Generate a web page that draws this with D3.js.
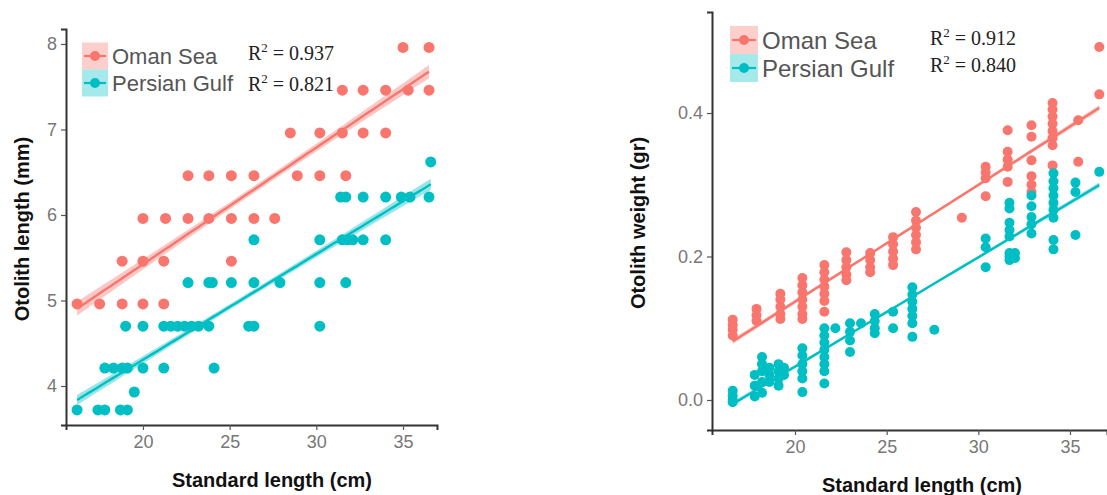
<!DOCTYPE html>
<html>
<head>
<meta charset="utf-8">
<script src="https://cdn.jsdelivr.net/npm/d3@7"></script>
<style>
  html, body { margin: 0; padding: 0; background: #fff; }
  svg { display: block; }
</style>
</head>
<body>
<svg id="chart" width="1107" height="495"></svg>
<script>
// ---------------- DATA ----------------
const seriesNames = ["Oman Sea", "Persian Gulf"];
const seriesColors = ["#F8766D", "#00BFC4"];

// Left panel: Otolith length (mm) vs Standard length (cm)
const lengthOman = [
  [35.0,7.96],[36.5,7.96],
  [31.5,7.46],[32.7,7.46],[34.0,7.46],[35.3,7.46],[36.5,7.46],
  [28.5,6.96],[30.2,6.96],[31.5,6.96],[32.7,6.96],[34.0,6.96],
  [22.6,6.46],[23.8,6.46],[25.1,6.46],[26.4,6.46],[28.9,6.46],[30.2,6.46],[31.7,6.46],
  [20.0,5.96],[21.3,5.96],[22.6,5.96],[23.8,5.96],[25.1,5.96],[26.4,5.96],[27.6,5.96],
  [18.8,5.46],[20.0,5.46],[21.2,5.46],[25.1,5.46],
  [16.2,4.96],[17.5,4.96],[18.8,4.96],[20.0,4.96],[21.2,4.96]
];
const lengthGulf = [
  [36.6,6.62],
  [31.4,6.21],[31.7,6.21],[32.7,6.21],[34.0,6.21],[34.9,6.21],[35.4,6.21],[36.5,6.21],
  [26.4,5.71],[30.2,5.71],[31.5,5.71],[31.8,5.71],[32.1,5.71],[32.7,5.71],[34.0,5.71],
  [22.6,5.21],[23.8,5.21],[24.0,5.21],[25.1,5.21],[26.4,5.21],[27.9,5.21],[30.2,5.21],[31.7,5.21],
  [19.0,4.70],[20.0,4.70],[21.2,4.70],[21.6,4.70],[22.0,4.70],[22.4,4.70],[22.8,4.70],[23.2,4.70],[23.8,4.70],[26.1,4.70],[26.4,4.70],[30.2,4.70],
  [17.8,4.21],[18.3,4.21],[18.8,4.21],[19.1,4.21],[20.0,4.21],[21.2,4.21],[24.1,4.21],
  [19.5,3.93],
  [16.2,3.72],[17.4,3.72],[17.8,3.72],[18.7,3.72],[19.1,3.72]
];
const lengthR2 = ["0.937", "0.821"];
const lengthXTicks = [20, 25, 30, 35];
const lengthYTicks = [4, 5, 6, 7, 8];

// Right panel: Otolith weight (gr) vs Standard length (cm)
const weightOman = [
  [16.6,0.112],[16.6,0.105],[16.6,0.098],[16.6,0.090],
  [17.9,0.127],[17.9,0.118],[17.9,0.110],
  [19.2,0.148],[19.2,0.140],[19.2,0.130],[19.2,0.120],[19.2,0.113],
  [20.4,0.170],[20.4,0.160],[20.4,0.150],[20.4,0.140],[20.4,0.130],[20.4,0.120],[20.4,0.113],
  [21.6,0.188],[21.6,0.178],[21.6,0.168],[21.6,0.158],[21.6,0.148],[21.6,0.138],[21.6,0.123],
  [22.8,0.206],[22.8,0.195],[22.8,0.185],[22.8,0.175],[22.8,0.167],
  [24.1,0.205],[24.1,0.195],[24.1,0.185],[24.1,0.178],
  [25.35,0.227],[25.35,0.217],[25.35,0.207],[25.35,0.197],[25.35,0.188],
  [26.6,0.262],[26.6,0.250],[26.6,0.240],[26.6,0.230],[26.6,0.220],[26.6,0.210],
  [29.1,0.254],
  [30.4,0.325],[30.4,0.317],[30.4,0.309],[30.4,0.284],
  [31.6,0.376],[31.6,0.346],[31.6,0.335],[31.6,0.325],[31.6,0.304],
  [32.9,0.383],[32.9,0.367],[32.9,0.334],[32.9,0.312],[32.9,0.300],[32.9,0.290],
  [34.05,0.414],[34.05,0.405],[34.05,0.395],[34.05,0.385],[34.05,0.375],[34.05,0.365],[34.05,0.355],[34.05,0.327],
  [35.45,0.390],[35.45,0.332],
  [36.6,0.492],[36.6,0.426]
];
const weightGulf = [
  [16.6,0.013],[16.6,0.006],[16.6,0.000],[16.6,-0.003],
  [17.8,0.035],[17.8,0.020],[17.8,0.005],
  [18.2,0.060],[18.2,0.050],[18.2,0.040],[18.2,0.025],[18.2,0.010],
  [18.6,0.045],[18.6,0.035],[18.6,0.025],
  [19.1,0.050],[19.1,0.040],[19.1,0.030],[19.1,0.020],
  [19.4,0.045],[19.4,0.035],
  [20.4,0.072],[20.4,0.062],[20.4,0.050],[20.4,0.040],[20.4,0.030],[20.4,0.011],
  [21.6,0.100],[21.6,0.090],[21.6,0.080],[21.6,0.070],[21.6,0.060],[21.6,0.050],[21.6,0.040],[21.6,0.023],
  [22.2,0.100],
  [23.0,0.107],[23.0,0.095],[23.0,0.083],[23.0,0.067],
  [23.6,0.107],
  [24.35,0.120],[24.35,0.110],[24.35,0.100],[24.35,0.093],
  [25.35,0.123],[25.35,0.100],
  [26.4,0.157],[26.4,0.147],[26.4,0.137],[26.4,0.127],[26.4,0.117],[26.4,0.107],[26.4,0.088],
  [27.6,0.098],
  [30.4,0.225],[30.4,0.213],[30.4,0.185],
  [31.7,0.275],[31.7,0.267],[31.7,0.247],[31.7,0.237],[31.7,0.228],[31.7,0.205],[31.7,0.200],[31.7,0.195],
  [32.0,0.205],[32.0,0.198],
  [32.9,0.285],[32.9,0.270],[32.9,0.255],[32.9,0.245],[32.9,0.232],
  [34.1,0.316],[34.1,0.305],[34.1,0.295],[34.1,0.285],[34.1,0.275],[34.1,0.265],[34.1,0.254],[34.1,0.223],[34.1,0.210],
  [35.3,0.303],[35.3,0.290],[35.3,0.230],
  [36.6,0.318]
];
const weightR2 = ["0.912", "0.840"];
const weightXTicks = [20, 25, 30, 35];
const weightYTicks = [0.0, 0.2, 0.4];

// ---------------- HELPERS ----------------
// Least-squares fit with a standard-error ribbon (the visible points are
// overplotted duplicates of a larger sample, so the ribbon is drawn at ~1/3 of
// the 95% interval of the visible points to match the thin ribbon of the figure).
const ribbonMultiplier = 0.65;
function fitLM(pts) {
  const n = pts.length;
  const mx = d3.mean(pts, d => d[0]), my = d3.mean(pts, d => d[1]);
  let sxx = 0, sxy = 0;
  pts.forEach(([x, y]) => { sxx += (x - mx) ** 2; sxy += (x - mx) * (y - my); });
  const b = sxy / sxx, a = my - b * mx;
  let sse = 0;
  pts.forEach(([x, y]) => { sse += (y - a - b * x) ** 2; });
  const s2 = sse / (n - 2);
  const [x0, x1] = d3.extent(pts, d => d[0]);
  const grid = d3.range(0, 81).map(i => x0 + (x1 - x0) * i / 80);
  return grid.map(x => {
    const yhat = a + b * x;
    const se = Math.sqrt(s2 * (1 / n + (x - mx) ** 2 / sxx));
    return { x, y: yhat, lo: yhat - ribbonMultiplier * se, hi: yhat + ribbonMultiplier * se };
  });
}

const svg = d3.select("#chart");

function drawPanel(cfg) {
  const { id, series, xDomain, yDomain, xRange, yRange, xTicks, yTicks, yFmt,
          yLabel, yLabelX, xLabelX, xLabelY, legend, r2, pr } = cfg;
  const x = d3.scaleLinear().domain(xDomain).range(xRange);
  const y = d3.scaleLinear().domain(yDomain).range(yRange);
  const g = svg.append("g");

  g.append("clipPath").attr("id", "clip" + id)
    .append("rect").attr("x", xRange[0]).attr("y", yRange[1])
    .attr("width", xRange[1] - xRange[0]).attr("height", yRange[0] - yRange[1]);

  const plot = g.append("g").attr("clip-path", `url(#clip${id})`);

  series.forEach((pts, i) => {
    plot.selectAll(null).data(pts).enter().append("circle")
      .attr("cx", d => x(d[0])).attr("cy", d => y(d[1]))
      .attr("r", pr).attr("fill", seriesColors[i]);
  });
  series.forEach((pts, i) => {
    const fit = fitLM(pts);
    plot.append("path").datum(fit)
      .attr("d", d3.area().x(d => x(d.x)).y0(d => y(d.lo)).y1(d => y(d.hi)))
      .attr("fill", seriesColors[i]).attr("fill-opacity", 0.4);
    plot.append("path").datum(fit)
      .attr("d", d3.line().x(d => x(d.x)).y(d => y(d.y)))
      .attr("fill", "none").attr("stroke", seriesColors[i]).attr("stroke-width", 2.4);
  });

  // axes
  const xAxis = g.append("g").attr("transform", `translate(0,${yRange[0]})`)
    .call(d3.axisBottom(x).tickValues(xTicks).tickSize(5).tickPadding(5).tickFormat(d3.format("d")));
  const yAxis = g.append("g").attr("transform", `translate(${xRange[0]},0)`)
    .call(d3.axisLeft(y).tickValues(yTicks).tickSize(5).tickPadding(4).tickFormat(yFmt));
  [xAxis, yAxis].forEach(ax => {
    ax.select(".domain").attr("stroke", "#333").attr("stroke-width", 2);
    ax.selectAll(".tick line").attr("stroke", "#555").attr("stroke-width", 1.2);
    ax.selectAll(".tick text").attr("fill", "#777").attr("font-size", 18)
      .attr("font-family", "Liberation Sans, Arial, sans-serif");
  });

  // labels
  g.append("text").attr("x", xLabelX).attr("y", xLabelY).attr("text-anchor", "middle")
    .attr("font-family", "Liberation Sans, Arial, sans-serif").attr("font-weight", "bold")
    .attr("font-size", 20).attr("fill", "#111").text("Standard length (cm)");
  g.append("text").attr("transform", `translate(${yLabelX},${(yRange[0] + yRange[1]) / 2 + 2}) rotate(-90)`)
    .attr("text-anchor", "middle")
    .attr("font-family", "Liberation Sans, Arial, sans-serif").attr("font-weight", "bold")
    .attr("font-size", 20).attr("fill", "#111").text(yLabel);

  // legend
  seriesNames.forEach((name, i) => {
    const cy = legend.y + i * legend.dy;
    const lg = g.append("g");
    lg.append("rect").attr("x", legend.x).attr("y", cy - legend.h / 2)
      .attr("width", legend.w).attr("height", legend.h)
      .attr("fill", seriesColors[i]).attr("fill-opacity", 0.35);
    lg.append("line").attr("x1", legend.x + 2).attr("x2", legend.x + legend.w - 2)
      .attr("y1", cy).attr("y2", cy).attr("stroke", seriesColors[i]).attr("stroke-width", 2.2);
    lg.append("circle").attr("cx", legend.x + legend.w / 2).attr("cy", cy).attr("r", 5)
      .attr("fill", seriesColors[i]);
    lg.append("text").attr("x", legend.x + legend.w + 4).attr("y", cy + legend.fs * 0.36)
      .attr("font-family", "Liberation Sans, Arial, sans-serif").attr("font-size", legend.fs)
      .attr("fill", "#555").text(name);
  });

  // R^2 annotations
  r2.values.forEach((v, i) => {
    const t = g.append("text").attr("x", r2.x).attr("y", r2.y + i * r2.dy)
      .attr("font-family", "Liberation Serif, Times New Roman, serif")
      .attr("font-size", r2.fs).attr("fill", "#222");
    t.append("tspan").text("R");
    t.append("tspan").attr("dy", -8).attr("font-size", r2.fs * 0.65).text("2");
    t.append("tspan").attr("dy", 8).text(" = " + v);
  });
}

drawPanel({
  id: "L",
  series: [lengthOman, lengthGulf],
  xDomain: [15.56, 36.96], xRange: [66, 437],
  yDomain: [3.544, 8.175], yRange: [425, 29],
  xTicks: lengthXTicks, yTicks: lengthYTicks, yFmt: d3.format("d"),
  yLabel: "Otolith length (mm)", yLabelX: 29,
  xLabelX: 272, xLabelY: 487, pr: 5.5,
  legend: { x: 82, y: 56, dy: 27, w: 26, h: 27, fs: 22 },
  r2: { x: 248, y: 60, dy: 31, fs: 20, values: lengthR2 }
});

drawPanel({
  id: "R",
  series: [weightOman, weightGulf],
  xDomain: [15.47, 37.02], xRange: [712, 1107],
  yDomain: [-0.0418, 0.5408], yRange: [430, 12],
  xTicks: weightXTicks, yTicks: weightYTicks, yFmt: d3.format(".1f"),
  yLabel: "Otolith weight (gr)", yLabelX: 645,
  xLabelX: 922, xLabelY: 492, pr: 5,
  legend: { x: 730, y: 40, dy: 28, w: 28, h: 28, fs: 24 },
  r2: { x: 930, y: 45, dy: 27, fs: 20, values: weightR2 }
});
</script>
</body>
</html>
